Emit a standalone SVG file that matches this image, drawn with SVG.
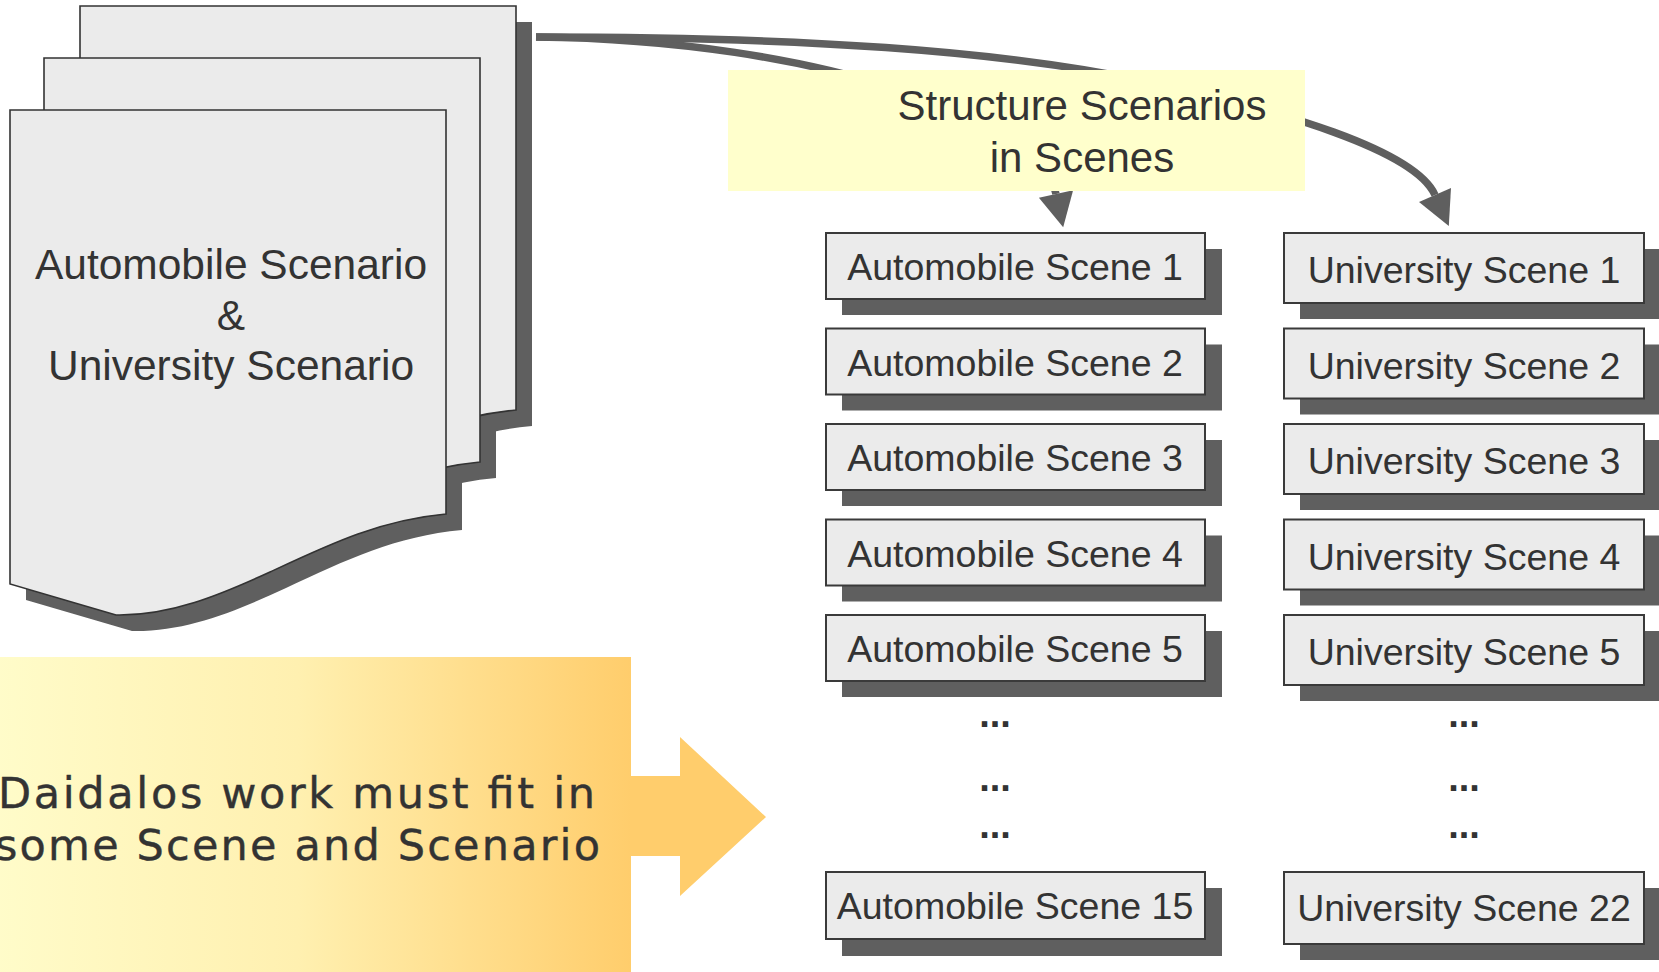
<svg xmlns="http://www.w3.org/2000/svg" xmlns:xlink="http://www.w3.org/1999/xlink" width="1659" height="972" viewBox="0 0 1659 972">
<style>
.page{fill:#ebebeb;stroke:#333;stroke-width:1.6}
.shadow{fill:#5f5f5f}
.box{fill:#ebebeb;stroke:#3a3a3a;stroke-width:2}
.t{font-family:"Liberation Sans",Arial,sans-serif;fill:#333;text-anchor:middle}
.scene{font-size:37.5px}
.dots{font-size:38px;font-weight:bold}
.conn{fill:none;stroke:#5f5f5f;stroke-width:7.5}
.big{font-family:"DejaVu Sans",Verdana,sans-serif;font-size:43px;fill:#333;stroke:#333;stroke-width:0.4}
</style>
<defs>
<path id="page" d="M0,0 H436 V404 C370,410 320,434 260,462 C210,485 160,506 106,505 L0,474 Z"/>
<marker id="arrow" markerUnits="userSpaceOnUse" viewBox="0 -18 36 36" markerWidth="36" markerHeight="36" refX="0" refY="0" orient="auto" overflow="visible">
<path d="M0,-17.5 L34,0 L0,17.5 Z" fill="#5f5f5f"/>
</marker>
<linearGradient id="grad" x1="0" y1="0" x2="1" y2="0">
<stop offset="0" stop-color="#fffdcc"/>
<stop offset="0.5" stop-color="#fff0b0"/>
<stop offset="1" stop-color="#ffcd6c"/>
</linearGradient>
</defs>

<g id="scenario-documents">
<use href="#page" class="shadow" x="96" y="22"/>
<use href="#page" class="shadow" x="60" y="74"/>
<use href="#page" class="shadow" x="26" y="126"/>
<use href="#page" class="page" x="80" y="6"/>
<use href="#page" class="page" x="44" y="58"/>
<use href="#page" class="page" x="10" y="110"/>
<text class="t" font-size="42.5" x="231" y="279">Automobile Scenario</text>
<text class="t" font-size="42.5" x="231" y="329.5">&amp;</text>
<text class="t" font-size="42.5" x="231" y="380">University Scenario</text>
</g>

<g id="connectors">
<path class="conn" d="M536,37 C820,40 1040,120 1056,194" marker-end="url(#arrow)"/>
<path class="conn" d="M536,37 C800,37 1000,50 1150,82 C1280,110 1415,150 1435,195" marker-end="url(#arrow)"/>
</g>

<g id="structure-label">
<rect x="728" y="70" width="577" height="121" fill="#ffffcc"/>
<text class="t" font-size="42" x="1082" y="120">Structure Scenarios</text>
<text class="t" font-size="42" x="1082" y="172">in Scenes</text>
</g>

<g id="daidalos-arrow">
<rect x="-35" y="657" width="666" height="320" fill="url(#grad)"/>
<polygon points="631,776 680,776 680,737 766,817 680,896 680,856 631,856" fill="#ffcd6c"/>
<text class="big" x="-2" y="808" textLength="597" lengthAdjust="spacing">Daidalos work must fit in</text>
<text class="big" x="-5" y="860" textLength="605" lengthAdjust="spacing">some Scene and Scenario</text>
</g>

<g id="auto-scene-1"><rect class="shadow" x="842" y="249" width="380" height="66"/><rect class="box" x="826" y="233" width="379" height="66"/><text class="t scene" x="1015" y="280">Automobile Scene 1</text></g>
<g id="auto-scene-2"><rect class="shadow" x="842" y="344.5" width="380" height="66"/><rect class="box" x="826" y="328.5" width="379" height="66"/><text class="t scene" x="1015" y="375.5">Automobile Scene 2</text></g>
<g id="auto-scene-3"><rect class="shadow" x="842" y="440" width="380" height="66"/><rect class="box" x="826" y="424" width="379" height="66"/><text class="t scene" x="1015" y="471">Automobile Scene 3</text></g>
<g id="auto-scene-4"><rect class="shadow" x="842" y="535.5" width="380" height="66"/><rect class="box" x="826" y="519.5" width="379" height="66"/><text class="t scene" x="1015" y="566.5">Automobile Scene 4</text></g>
<g id="auto-scene-5"><rect class="shadow" x="842" y="631" width="380" height="66"/><rect class="box" x="826" y="615" width="379" height="66"/><text class="t scene" x="1015" y="662">Automobile Scene 5</text></g>
<g id="auto-dots">
<text class="t dots" x="995" y="727">...</text>
<text class="t dots" x="995" y="791">...</text>
<text class="t dots" x="995" y="838">...</text>
</g>
<g id="auto-scene-15"><rect class="shadow" x="842" y="888" width="380" height="68"/><rect class="box" x="826" y="872" width="379" height="67"/><text class="t scene" x="1015" y="919">Automobile Scene 15</text></g>

<g id="univ-scene-1"><rect class="shadow" x="1300" y="249" width="380" height="70"/><rect class="box" x="1284" y="233" width="360" height="70"/><text class="t scene" x="1464" y="283">University Scene 1</text></g>
<g id="univ-scene-2"><rect class="shadow" x="1300" y="344.5" width="380" height="70"/><rect class="box" x="1284" y="328.5" width="360" height="70"/><text class="t scene" x="1464" y="378.5">University Scene 2</text></g>
<g id="univ-scene-3"><rect class="shadow" x="1300" y="440" width="380" height="70"/><rect class="box" x="1284" y="424" width="360" height="70"/><text class="t scene" x="1464" y="474">University Scene 3</text></g>
<g id="univ-scene-4"><rect class="shadow" x="1300" y="535.5" width="380" height="70"/><rect class="box" x="1284" y="519.5" width="360" height="70"/><text class="t scene" x="1464" y="569.5">University Scene 4</text></g>
<g id="univ-scene-5"><rect class="shadow" x="1300" y="631" width="380" height="70"/><rect class="box" x="1284" y="615" width="360" height="70"/><text class="t scene" x="1464" y="665">University Scene 5</text></g>
<g id="univ-dots">
<text class="t dots" x="1464" y="727">...</text>
<text class="t dots" x="1464" y="791">...</text>
<text class="t dots" x="1464" y="838">...</text>
</g>
<g id="univ-scene-22"><rect class="shadow" x="1300" y="888" width="380" height="72"/><rect class="box" x="1284" y="872" width="360" height="72"/><text class="t scene" x="1464" y="921">University Scene 22</text></g>
</svg>
